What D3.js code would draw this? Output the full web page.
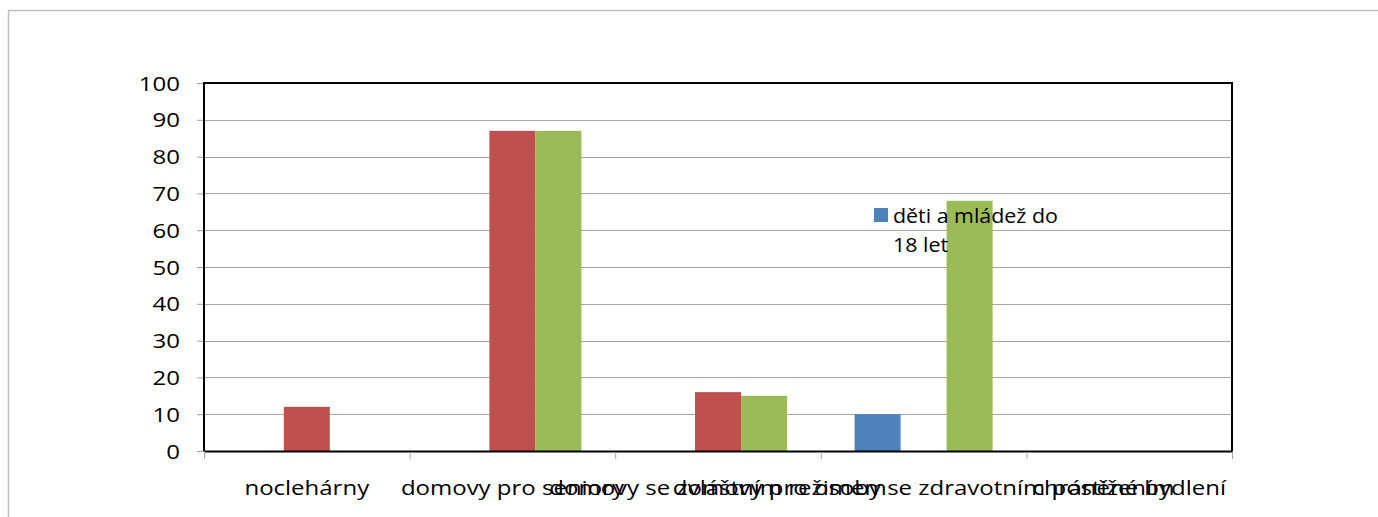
<!DOCTYPE html>
<html>
<head>
<meta charset="utf-8">
<script src="https://cdn.jsdelivr.net/npm/d3@7"></script>
<style>
  html, body { margin: 0; padding: 0; background: #fff; }
  svg { display: block; }
  text { font-family: "Open Sans", sans-serif; fill: #000; }
</style>
</head>
<body>
<div id="chart"></div>
<script>
const categories = [
  'noclehárny',
  'domovy pro seniory',
  'domovy se zvláštním režimem',
  'domovy pro osoby se zdravotním postižením',
  'chráněné bydlení'
];
const seriesNames = ['děti a mládež do 18 let', 'dospělí', 'senioři'];
const seriesBlue = [0, 0, 0, 10, 0];
const seriesRed = [12, 87, 16, 0, 0];
const seriesGreen = [0, 87, 15, 68, 0];
const yTicks = [0, 10, 20, 30, 40, 50, 60, 70, 80, 90, 100];

const W = 1378, H = 517;
const plot = { left: 204, right: 1232, top: 83, bottom: 451 };
const stretch = 1.2; // text in the reference is stretched horizontally
const colors = ['#4F81BD', '#C0504D', '#9BBB59'];

const svg = d3.select('#chart').append('svg')
  .attr('width', W)
  .attr('height', H);

// outer chart frame (cropped at right and bottom)
svg.append('path')
  .attr('d', `M8.5,${H} V10.5 H${W}`)
  .attr('fill', 'none')
  .attr('stroke', '#bfbfbf')
  .attr('stroke-width', 1.5);

const x = d3.scaleBand()
  .domain(categories)
  .range([plot.left, plot.right]);

const x1 = d3.scaleBand()
  .domain(d3.range(seriesNames.length))
  .range([0, x.bandwidth()])
  .paddingOuter(0.735)
  .paddingInner(0);

const y = d3.scaleLinear()
  .domain([0, 100])
  .range([plot.bottom, plot.top]);

// gridlines
svg.append('g')
  .selectAll('line')
  .data(yTicks.filter(d => d > 0 && d < 100))
  .join('line')
  .attr('x1', plot.left)
  .attr('x2', plot.right)
  .attr('y1', d => Math.round(y(d)) + 0.5)
  .attr('y2', d => Math.round(y(d)) + 0.5)
  .attr('stroke', '#a6a6a6')
  .attr('stroke-width', 1);

// y axis ticks and labels
const yAxis = d3.axisLeft(y)
  .tickValues(yTicks)
  .tickSize(7)
  .tickPadding(0)
  .tickFormat(d => d);

const gy = svg.append('g')
  .attr('transform', `translate(${plot.left},0)`)
  .call(yAxis);
gy.select('.domain').remove();
gy.selectAll('.tick line').attr('stroke', '#a6a6a6');
gy.selectAll('.tick text').remove();

svg.append('g')
  .selectAll('text')
  .data(yTicks)
  .join('text')
  .attr('transform', d => `translate(180,${y(d) + 7.5}) scale(${stretch},1)`)
  .attr('text-anchor', 'end')
  .attr('font-size', 20)
  .text(d => d);

// bars
const seriesData = [seriesBlue, seriesRed, seriesGreen];
const barGroups = svg.append('g')
  .selectAll('g')
  .data(seriesData)
  .join('g')
  .attr('fill', (d, i) => colors[i]);

barGroups.selectAll('rect')
  .data((vals, si) => vals.map((v, ci) => ({ v, si, ci })))
  .join('rect')
  .filter(d => d.v > 0)
  .attr('x', d => x(categories[d.ci]) + x1(d.si))
  .attr('width', x1.bandwidth())
  .attr('y', d => y(d.v))
  .attr('height', d => y(0) - y(d.v));

// plot area border
svg.append('path')
  .attr('d', `M${plot.left},${plot.bottom} V${plot.top} H${plot.right} V${plot.bottom}`)
  .attr('fill', 'none')
  .attr('stroke', '#000')
  .attr('stroke-width', 2);

// x axis
const xAxis = d3.axisBottom(x).tickSize(0).tickFormat('');
const gx = svg.append('g')
  .attr('transform', `translate(0,${plot.bottom})`)
  .call(xAxis);
gx.select('.domain')
  .attr('stroke', '#000')
  .attr('stroke-width', 2);
gx.selectAll('.tick').remove();

const boundaries = categories.map(c => x(c)).concat([plot.right]);
svg.append('g')
  .selectAll('line')
  .data(boundaries)
  .join('line')
  .attr('x1', d => d + 0.5)
  .attr('x2', d => d + 0.5)
  .attr('y1', plot.bottom + 1)
  .attr('y2', plot.bottom + 8)
  .attr('stroke', '#a6a6a6');

svg.append('g')
  .selectAll('text')
  .data(categories)
  .join('text')
  .attr('transform', d => `translate(${x(d) + x.bandwidth() / 2},495) scale(${stretch},1)`)
  .attr('text-anchor', 'middle')
  .attr('font-size', 20)
  .text(d => d);

// legend (only the first entry is visible in the original)
const legend = svg.append('g').attr('transform', 'translate(874,208)');
legend.append('rect')
  .attr('width', 14)
  .attr('height', 14)
  .attr('fill', colors[0]);
legend.append('text')
  .attr('transform', 'translate(19,15) scale(1.07,1)')
  .attr('font-size', 20)
  .text('děti a mládež do');
legend.append('text')
  .attr('transform', 'translate(19,44) scale(1.07,1)')
  .attr('font-size', 20)
  .text('18 let');
</script>
</body>
</html>
